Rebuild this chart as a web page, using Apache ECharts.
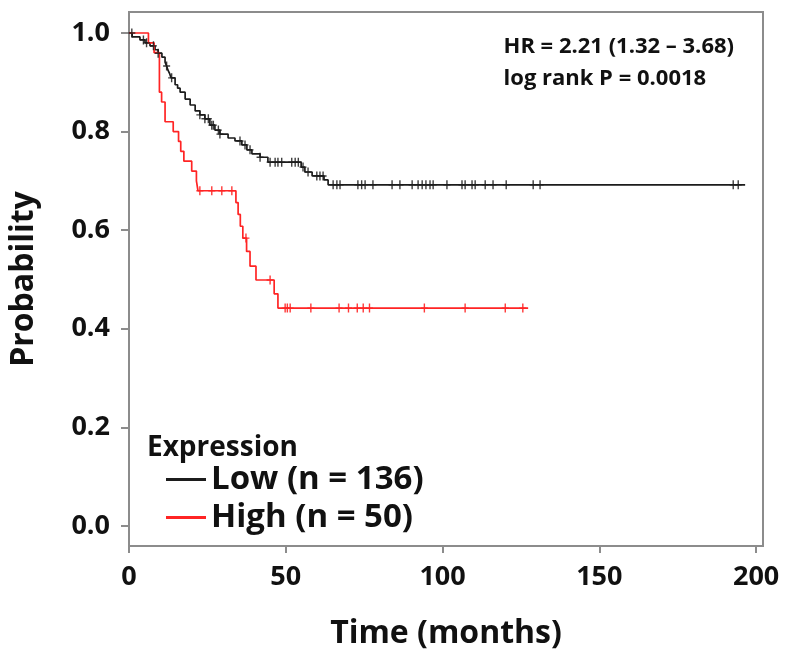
<!DOCTYPE html>
<html>
<head>
<meta charset="utf-8">
<script src="https://cdn.jsdelivr.net/npm/echarts@6/dist/echarts.min.js"></script>
<style>html,body{margin:0;padding:0;background:#fff;}#c{width:789px;height:663px;}</style>
</head>
<body>
<div id="c"></div>
<script>
// Kaplan-Meier step data: [time (months), survival probability after event]
const lowSteps = [
  [0,1.0],[1.0,0.992],[3.5,0.986],[5.1,0.980],[6.7,0.974],[8.3,0.966],[9.3,0.959],
  [10.5,0.951],[11.5,0.941],[12.0,0.933],[12.4,0.925],[13.0,0.917],[13.4,0.909],
  [14.7,0.895],[15.5,0.888],[16.3,0.880],[17.9,0.866],[19.5,0.854],[21.1,0.842],
  [22.6,0.834],[24.2,0.826],[25.8,0.813],[27.4,0.803],[29.0,0.795],[31.6,0.787],
  [33.8,0.781],[36.0,0.773],[37.6,0.763],[39.2,0.755],[41.8,0.748],[44.3,0.738],
  [54.9,0.728],[56.1,0.718],[58.4,0.710],[62.2,0.702],[63.5,0.692],[196.5,0.692]
];
const lowCensor = [0.9,4.6,5.6,7.8,9.3,12.0,13.6,22.6,24.2,25.3,26.4,26.9,28.5,29.0,
  35.4,37.0,38.6,41.8,45.0,46.6,47.5,48.7,51.9,53.0,54.0,55.5,57.1,59.9,60.9,61.9,
  65.1,66.3,67.3,73.0,74.2,75.3,77.8,83.9,86.4,90.3,92.2,93.5,94.7,96.0,97.0,101.4,
  106.2,107.2,109.4,110.4,113.6,116.1,120.3,128.9,131.1,192.7,194.3];
const highSteps = [
  [0,1.0],[6.2,0.98],[8.0,0.96],[9.7,0.88],[10.4,0.86],[11.5,0.82],[14.1,0.80],
  [15.8,0.78],[16.5,0.76],[17.5,0.74],[20.0,0.72],[21.5,0.70],[22.0,0.68],
  [34.1,0.656],[34.8,0.632],[35.5,0.608],[36.3,0.584],[37.5,0.557],[38.6,0.527],
  [40.5,0.499],[46.3,0.471],[47.5,0.442],[127.3,0.442]
];
const highCensor = [22.6,26.4,29.6,32.8,37.3,45.0,49.8,50.5,51.4,58.0,67.0,70.0,
  72.8,74.7,76.7,94.2,107.2,120.0,125.6];
const yTicks = [0,0.2,0.4,0.6,0.8,1.0];
const xTicks = [0,50,100,150,200];
const seriesNames = ['Low (n = 136)','High (n = 50)'];
const statLines = ['HR = 2.21 (1.32 \u2013 3.68)','log rank P = 0.0018'];

function survAt(steps, t){
  let s = steps[0][1];
  for (const p of steps){ if (p[0] <= t) s = p[1]; else break; }
  return s;
}
const FONT = '"Open Sans"';
const crossPath = 'path://M-0.2,-1L0.2,-1L0.2,-0.15L1,-0.15L1,0.15L0.2,0.15L0.2,1L-0.2,1L-0.2,0.15L-1,0.15L-1,-0.15L-0.2,-0.15Z';
const BLACK = '#1c1c1c', RED = '#ff2424', GREY = '#8c8c8c', TXT = '#111';

const chart = echarts.init(document.getElementById('c'));
chart.setOption({
  animation:false,
  backgroundColor:'#fff',
  grid:{left:129,right:26,top:12,bottom:117,show:true,borderColor:GREY,borderWidth:2,containLabel:false},
  title:[
    {text:statLines[0]+'\n'+statLines[1],right:50,top:26,
     textStyle:{fontFamily:FONT,fontWeight:'bold',fontSize:22,color:TXT,lineHeight:32}},
    {text:'Expression',left:142,top:429,textStyle:{fontFamily:FONT,fontWeight:'bold',fontSize:28,color:TXT,lineHeight:28}}
  ],
  legend:{
    data:seriesNames,orient:'vertical',left:161,top:458,itemWidth:40,itemHeight:3,itemGap:5,
    icon:'rect',textStyle:{fontFamily:FONT,fontWeight:'bold',fontSize:33,color:TXT,lineHeight:30}
  },
  xAxis:{
    type:'value',min:0,max:202.2,
    name:'Time (months)',nameLocation:'middle',nameGap:72,
    nameTextStyle:{fontFamily:FONT,fontWeight:'bold',fontSize:32,color:TXT},
    axisLine:{show:false,onZero:false},
    axisTick:{show:true,length:7,customValues:xTicks,lineStyle:{color:GREY,width:2}},
    axisLabel:{customValues:xTicks,margin:18,fontFamily:FONT,fontWeight:'bold',fontSize:27,color:TXT},
    splitLine:{show:false}
  },
  yAxis:{
    type:'value',min:-0.0406,max:1.0426,
    name:'Probability',nameLocation:'middle',nameGap:89,
    nameTextStyle:{fontFamily:FONT,fontWeight:'bold',fontSize:32,color:TXT},
    axisLine:{show:false,onZero:false},
    axisTick:{show:true,length:8,customValues:yTicks,lineStyle:{color:GREY,width:2}},
    axisLabel:{customValues:yTicks,margin:19,fontFamily:FONT,fontWeight:'bold',fontSize:27,color:TXT,
      formatter:v=>v.toFixed(1)},
    splitLine:{show:false}
  },
  series:[
    {name:seriesNames[0],type:'line',step:'end',data:lowSteps,showSymbol:false,
     lineStyle:{color:BLACK,width:1.7},itemStyle:{color:BLACK},z:3},
    {name:seriesNames[1],type:'line',step:'end',data:highSteps,showSymbol:false,
     lineStyle:{color:RED,width:1.7},itemStyle:{color:RED},z:4},
    {name:'lowC',type:'scatter',symbol:crossPath,symbolSize:[7,9],
     data:lowCensor.map(t=>[t,survAt(lowSteps,t)]),itemStyle:{color:BLACK,opacity:0.85},z:5},
    {name:'highC',type:'scatter',symbol:crossPath,symbolSize:[7,9],
     data:highCensor.map(t=>[t,survAt(highSteps,t)]),itemStyle:{color:RED,opacity:0.9},z:6}
  ]
});
</script>
</body>
</html>
